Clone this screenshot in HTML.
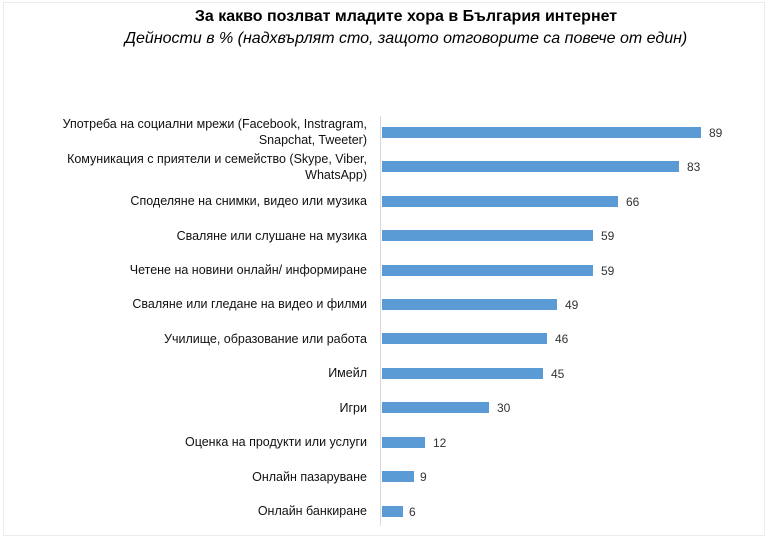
<!DOCTYPE html>
<html><head><meta charset="utf-8"><style>
html,body{margin:0;padding:0;background:#fff;}
#c{position:relative;width:768px;height:538px;overflow:hidden;font-family:"Liberation Sans","DejaVu Sans",sans-serif;color:#000;}
.frame{position:absolute;left:3px;top:2px;width:760px;height:532px;border:1px solid #ececec;}
.t{position:absolute;left:0;width:812px;text-align:center;white-space:nowrap;}
.lbl{position:absolute;right:401px;width:340px;text-align:right;font-size:12.5px;line-height:16px;color:#111;}
.bar{position:absolute;left:382px;height:11px;background:#5b9bd5;}
.v{position:absolute;font-size:12px;color:#333;}
.ax{position:absolute;left:380px;top:116px;width:1px;height:410px;background:#d9d9d9;}
</style></head><body><div id="c">
<div class="frame"></div>
<div class="t" style="top:8px;font-weight:bold;font-size:16px;">За какво позлват младите хора в България интернет</div>
<div class="t" style="top:30px;font-style:italic;font-size:16px;">Дейности в % (надхвърлят сто, защото отговорите са повече от един)</div>
<div class="ax"></div>
<div class="lbl" style="top:116px">Употреба на социални мрежи (Facebook, Instragram,<br>Snapchat, Tweeter)</div>
<div class="lbl" style="top:151px">Комуникация с приятели и семейство (Skype, Viber,<br>WhatsApp)</div>
<div class="lbl" style="top:193px">Споделяне на снимки, видео или музика</div>
<div class="lbl" style="top:228px">Сваляне или слушане на музика</div>
<div class="lbl" style="top:262px">Четене на новини онлайн/ информиране</div>
<div class="lbl" style="top:296px">Сваляне или гледане на видео и филми</div>
<div class="lbl" style="top:331px">Училище, образование или работа</div>
<div class="lbl" style="top:365px">Имейл</div>
<div class="lbl" style="top:400px">Игри</div>
<div class="lbl" style="top:434px">Оценка на продукти или услуги</div>
<div class="lbl" style="top:469px">Онлайн пазаруване</div>
<div class="lbl" style="top:503px">Онлайн банкиране</div>

<div class="bar" style="top:127px;width:319px"></div><div class="v" style="top:126px;left:709px">89</div>
<div class="bar" style="top:161px;width:297px"></div><div class="v" style="top:160px;left:687px">83</div>
<div class="bar" style="top:196px;width:236px"></div><div class="v" style="top:195px;left:626px">66</div>
<div class="bar" style="top:230px;width:211px"></div><div class="v" style="top:229px;left:601px">59</div>
<div class="bar" style="top:265px;width:211px"></div><div class="v" style="top:264px;left:601px">59</div>
<div class="bar" style="top:299px;width:175px"></div><div class="v" style="top:298px;left:565px">49</div>
<div class="bar" style="top:333px;width:165px"></div><div class="v" style="top:332px;left:555px">46</div>
<div class="bar" style="top:368px;width:161px"></div><div class="v" style="top:367px;left:551px">45</div>
<div class="bar" style="top:402px;width:107px"></div><div class="v" style="top:401px;left:497px">30</div>
<div class="bar" style="top:437px;width:43px"></div><div class="v" style="top:436px;left:433px">12</div>
<div class="bar" style="top:471px;width:32px"></div><div class="v" style="top:470px;left:420px">9</div>
<div class="bar" style="top:506px;width:21px"></div><div class="v" style="top:505px;left:409px">6</div>
</div></body></html>
